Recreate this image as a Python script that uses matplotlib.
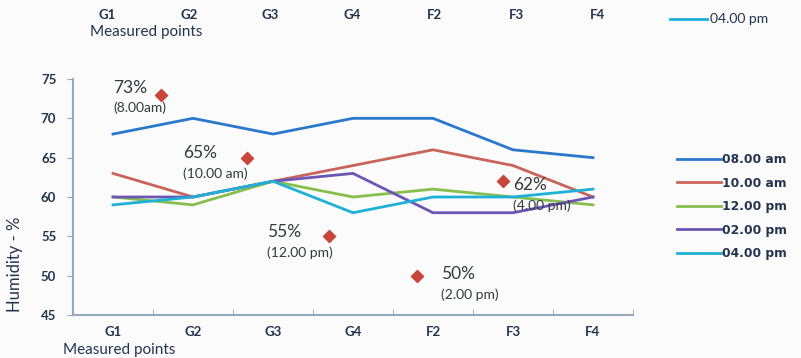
import matplotlib
matplotlib.use("Agg")
import matplotlib.pyplot as plt
from matplotlib.lines import Line2D

# Puntos medidos y humedad (%) por hora
puntos = ["G1", "G2", "G3", "G4", "F2", "F3", "F4"]
horas = ["08.00 am", "10.00 am", "12.00 pm", "02.00 pm", "04.00 pm"]
h_0800 = [68, 70, 68, 70, 70, 66, 65]
h_1000 = [63, 60, 62, 64, 66, 64, 60]
h_1200 = [60, 59, 62, 60, 61, 60, 59]
h_0200 = [60, 60, 62, 63, 58, 58, 60]
h_0400 = [59, 60, 62, 58, 60, 60, 61]
colores = ["#2a78cc", "#c8645a", "#86bf4e", "#6c55b5", "#1fb0d8"]

# Promedios marcados con rombos
prom_x = [0.6, 1.67, 2.7, 3.8, 4.88]
prom_val = [73, 65, 55, 50, 62]
prom_hora = ["(8.00am)", "(10.00 am)", "(12.00 pm)", "(2.00 pm)", "(4.00 pm)"]
prom_txt_dx = [-0.6, -0.79, -0.77, 0.3, 0.12]
prom_txt_dy = [0.9, 0.6, 0.5, 0.2, -0.5]

fuente = "Lato"
texto = "#23344f"
eje = "#93a9bb"

fig = plt.figure(figsize=(8.01, 3.58), dpi=100, facecolor="#fbfbfb")
ax = fig.add_axes([73 / 801, 43 / 358, 560 / 801, 236 / 358])
ax.set_facecolor("#fbfbfb")

series = [h_0800, h_1000, h_1200, h_0200, h_0400]
x = list(range(len(puntos)))
for nombre, vals, c in zip(horas, series, colores):
    ax.plot(x, vals, color=c, lw=2.0, label=nombre)

ax.scatter(prom_x, prom_val, marker="D", s=38, color="#c8453a", zorder=3)
for px, pv, ph, dx, dy in zip(prom_x, prom_val, prom_hora, prom_txt_dx, prom_txt_dy):
    ax.text(px + dx, pv + dy, f"{pv}%", fontsize=12.5, family=fuente,
            color="#333a40", ha="left", va="center")
    ax.text(px + dx, pv + dy - 2.6, ph, fontsize=10, family=fuente,
            color="#333a40", ha="left", va="center")

ax.set_xlim(-0.5, 6.5)
ax.set_ylim(45, 75)
ax.set_yticks(range(45, 80, 5))
ax.set_xticks(x)
ax.set_xticklabels(puntos)
ax.set_xticks([i + 0.5 for i in x], minor=True)
for lab in ax.get_xticklabels() + ax.get_yticklabels():
    lab.set_fontfamily(fuente)
    lab.set_fontweight("bold")
    lab.set_fontsize(9.5)
    lab.set_color(texto)
ax.tick_params(axis="x", which="major", length=0, pad=8)
ax.tick_params(axis="x", which="minor", length=4, color=eje, direction="in")
ax.tick_params(axis="y", length=4, color=eje, pad=8)
for s in ["top", "right"]:
    ax.spines[s].set_visible(False)
for s in ["left", "bottom"]:
    ax.spines[s].set_color(eje)
    ax.spines[s].set_linewidth(1.5)

ax.set_xlabel("Measured points", fontsize=11, family=fuente, color=texto)
ax.xaxis.set_label_coords(-0.017, -0.117)
ax.xaxis.label.set_ha("left")
fig.text(15 / 801, 1 - 264 / 358, "Humidity - %", rotation=90, fontsize=12,
         family=fuente, color=texto, ha="center", va="center")

leg = ax.legend(loc="upper left", bbox_to_anchor=(666 / 801, 1 - 142 / 358),
                bbox_transform=fig.transFigure, frameon=False,
                handlelength=3.6, handletextpad=0.1, labelspacing=0.86,
                prop={"family": "DejaVu Sans", "weight": "bold", "size": 8.8})
for t in leg.get_texts():
    t.set_color(texto)

# franja superior repetida
for i, p in enumerate(puntos):
    fig.text((107 + i * 81.8) / 801, 1 - 15 / 358, p, fontsize=9.5,
             family=fuente, weight="bold", color=texto, ha="center",
             va="center")
fig.text(90 / 801, 1 - 32 / 358, "Measured points", fontsize=11,
         family=fuente, color=texto, ha="left", va="center")
fig.add_artist(Line2D([670 / 801, 707 / 801], [1 - 19 / 358, 1 - 19 / 358],
                      color=colores[4], lw=2.0))
fig.text(710 / 801, 1 - 19 / 358, horas[4], fontsize=10, family=fuente,
         color=texto, ha="left", va="center")

fig.savefig("out.png", dpi=100, facecolor=fig.get_facecolor())
